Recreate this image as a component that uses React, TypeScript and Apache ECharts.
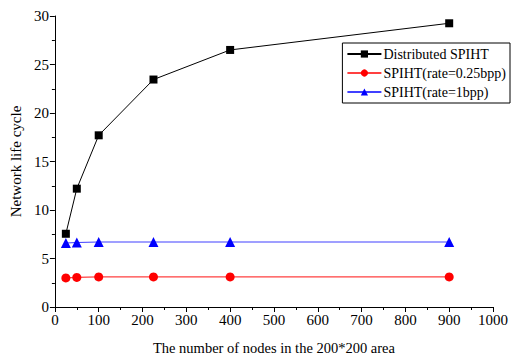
import React, { useEffect, useRef } from "react";
import * as echarts from "echarts";

const nodes = [25, 50, 100, 225, 400, 900];
const distributed = [7.55, 12.2, 17.7, 23.45, 26.5, 29.25];
const spiht025 = [3.0, 3.05, 3.1, 3.1, 3.1, 3.1];
const spiht1 = [6.6, 6.65, 6.7, 6.7, 6.7, 6.7];
const seriesNames = ["Distributed SPIHT", "SPIHT(rate=0.25bpp)", "SPIHT(rate=1bpp)"];

const FONT = "'Liberation Serif', 'Times New Roman', serif";

export default function App() {
  const ref = useRef<HTMLDivElement>(null);
  useEffect(() => {
    const chart = echarts.init(ref.current!, undefined, { renderer: "svg" });
    const pair = (ys: number[]) => nodes.map((x, i) => [x, ys[i]]);
    chart.setOption({
      animation: false,
      backgroundColor: "#fff",
      textStyle: { fontFamily: FONT },
      grid: { left: 52, right: 14, top: 16, bottom: 52 },
      legend: {
        orient: "vertical",
        right: 1,
        top: 43,
        itemWidth: 34,
        itemHeight: 9,
        itemGap: 5,
        padding: [4, 4, 4, 4],
        borderColor: "#000",
        borderWidth: 1,
        borderRadius: 0,
        textStyle: { fontFamily: FONT, fontSize: 14, color: "#000", padding: [0, 0, 0, -3] },
        data: seriesNames,
      },
      xAxis: {
        type: "value",
        min: 0,
        max: 1000,
        interval: 100,
        name: "The number of nodes in the 200*200 area",
        nameLocation: "middle",
        nameGap: 33,
        nameTextStyle: { fontFamily: FONT, fontSize: 14.5, color: "#000" },
        axisLine: { show: true, lineStyle: { color: "#000", width: 1 } },
        axisTick: { show: true, inside: false, length: 5, lineStyle: { color: "#000" } },
        minorTick: { show: true, splitNumber: 2, length: 3, lineStyle: { color: "#000" } },
        axisLabel: { fontFamily: FONT, fontSize: 15, color: "#000", margin: 5, formatter: (v: number) => String(v) },
        splitLine: { show: false },
      },
      yAxis: {
        type: "value",
        min: 0,
        max: 30,
        interval: 5,
        name: "Network life cycle",
        nameLocation: "middle",
        nameGap: 26,
        nameTextStyle: { fontFamily: FONT, fontSize: 15, color: "#000", padding: [0, 0, 0, 0] },
        axisLine: { show: true, lineStyle: { color: "#000", width: 1 } },
        axisTick: { show: true, inside: false, length: 5, lineStyle: { color: "#000" } },
        minorTick: { show: true, splitNumber: 2, length: 3, lineStyle: { color: "#000" } },
        axisLabel: { fontFamily: FONT, fontSize: 15, color: "#000", margin: 6 },
        splitLine: { show: false },
      },
      series: [
        {
          name: seriesNames[0],
          type: "line",
          data: pair(distributed),
          symbol: "rect",
          symbolSize: 8,
          itemStyle: { color: "#000" },
          lineStyle: { color: "#000", width: 1 },
        },
        {
          name: seriesNames[1],
          type: "line",
          data: pair(spiht025),
          symbol: "circle",
          symbolSize: 9,
          itemStyle: { color: "#ff0000" },
          lineStyle: { color: "#ff4040", width: 1.2 },
        },
        {
          name: seriesNames[2],
          type: "line",
          data: pair(spiht1),
          symbol: "triangle",
          symbolSize: 10,
          itemStyle: { color: "#0000ff" },
          lineStyle: { color: "#4040ff", width: 1.2 },
        },
      ],
    });
    return () => chart.dispose();
  }, []);
  return <div ref={ref} style={{ width: 511, height: 360, position: "absolute", left: 0, top: 0 }} />;
}
